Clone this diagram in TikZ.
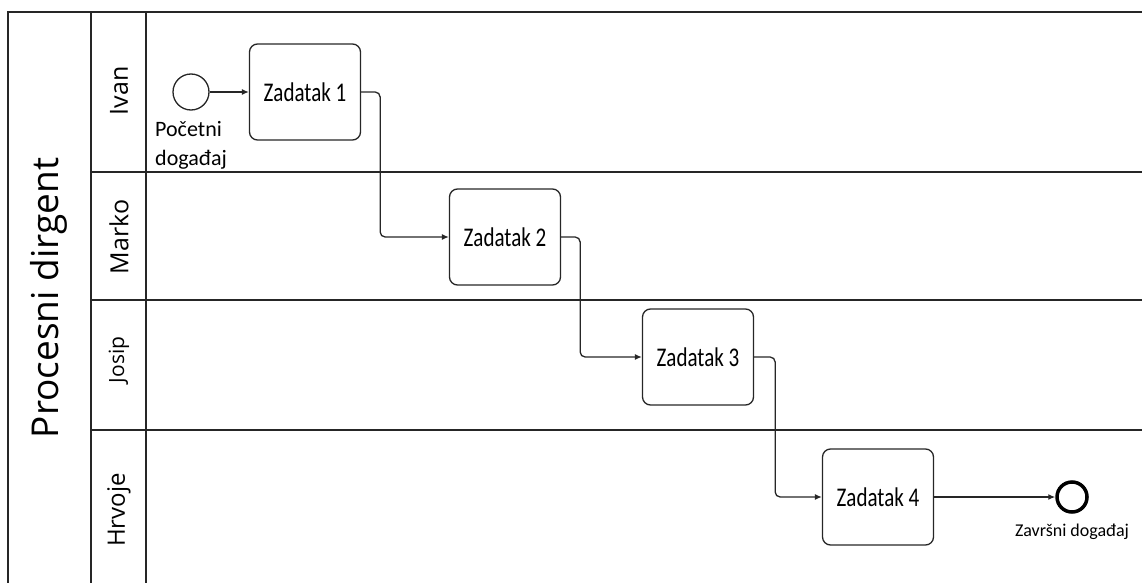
\documentclass[tikz,border=0pt]{standalone}
\usepackage{fontspec}
\setmainfont{Carlito}
\newfontfamily\lanefont{Open Sans}
\newfontfamily\taskfont{Carlito}[FakeStretch=0.78]
\usetikzlibrary{arrows.meta,positioning}

\begin{document}
\begin{tikzpicture}[x=1pt,y=-1pt,>={Latex[length=7pt,width=6pt]},
 line/.style={draw=black!85,line width=1.3pt},
 task/.style={draw=black!85,line width=1.3pt,rounded corners=8pt,
 minimum width=111pt,minimum height=96pt,inner sep=0pt,
 font=\taskfont\fontsize{27}{30}\selectfont},
 lane/.style={rotate=90,font=\lanefont\fontsize{25}{28}\selectfont},
 flow/.style={->,draw=black!85,line width=1.3pt,rounded corners=5pt}]
\useasboundingbox (0,0) rectangle (1142,583);
% pool and lanes
\draw[line,line width=2pt] (8,583) -- (8,12) -- (1142,12);
\draw[line] (91,12) -- (91,583);
\draw[line] (146,12) -- (146,583);
\foreach \y in {172,300,430} \draw[line] (91,\y) -- (1142,\y);
\node[lane,font=\lanefont\fontsize{37}{40}\selectfont] (pool) at (49,298) {Procesni dirgent};
\node[lane] (ivan) at (119,91) {Ivan};
\node[lane] (marko) at (119,237) {Marko};
\node[lane,font=\lanefont\fontsize{21}{24}\selectfont] (josip) at (119,360) {Josip};
\node[lane,font=\lanefont\fontsize{24}{27}\selectfont] (hrvoje) at (119,510) {Hrvoje};
% events and tasks
\node[circle,draw=black!85,line width=1.3pt,minimum size=36pt,inner sep=0pt] (start) at (191,92) {};
\node[below=11pt of start,align=left,inner sep=0pt,font=\fontsize{22}{29}\selectfont] (startlbl) {Početni\\događaj};
\node[task] (z1) at (305,92) {Zadatak 1};
\node[task] (z2) at (505,237) {Zadatak 2};
\node[task] (z3) at (698,357) {Zadatak 3};
\node[task] (z4) at (878,497) {Zadatak 4};
\node[circle,draw=black,line width=3.5pt,minimum size=30pt,inner sep=0pt] (end) at (1072,497) {};
\node[below=10pt of end,inner sep=0pt,font=\fontsize{18}{22}\selectfont] (endlbl) {Završni događaj};
% flows
\draw[flow] (start) -- (z1);
\draw[flow] (z1.east) -- ++(19,0) |- (z2.west);
\draw[flow] (z2.east) -- ++(19,0) |- (z3.west);
\draw[flow] (z3.east) -- ++(21,0) |- (z4.west);
\draw[flow] (z4) -- (end);
\end{tikzpicture}
\end{document}
